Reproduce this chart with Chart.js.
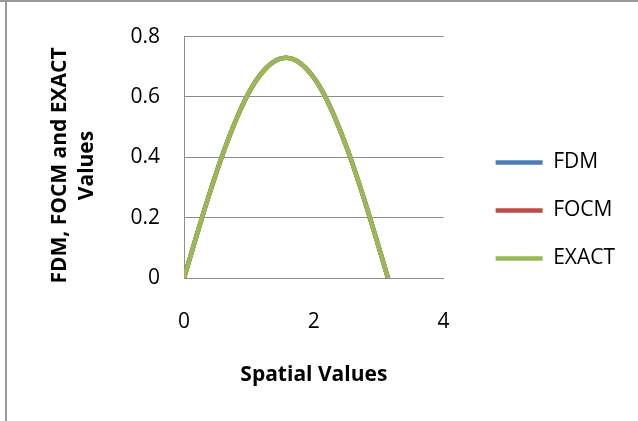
<!DOCTYPE html>
<html>
<head>
<meta charset="utf-8">
<script src="https://cdn.jsdelivr.net/npm/chart.js@4.4.0/dist/chart.umd.min.js"></script>
<style>
  html, body { margin: 0; padding: 0; background: #fff; }
  #wrap { position: relative; width: 638px; height: 421px; }
</style>
</head>
<body>
<div id="wrap"><canvas id="chart" width="638" height="421"></canvas></div>
<script>
// x positions (spatial values)
const xVals = [0, 0.157, 0.314, 0.471, 0.628, 0.785, 0.942, 1.1, 1.257, 1.414, 1.571,
               1.728, 1.885, 2.042, 2.199, 2.356, 2.513, 2.67, 2.827, 2.985, 3.142];
// the three curves lie on top of each other
const fdmVals   = [0, 0.114, 0.226, 0.331, 0.429, 0.516, 0.591, 0.651, 0.694, 0.721, 0.73,
                   0.721, 0.694, 0.651, 0.591, 0.516, 0.429, 0.331, 0.226, 0.114, 0];
const focmVals  = [0, 0.114, 0.226, 0.331, 0.429, 0.516, 0.591, 0.651, 0.694, 0.721, 0.73,
                   0.721, 0.694, 0.651, 0.591, 0.516, 0.429, 0.331, 0.226, 0.114, 0];
const exactVals = [0, 0.114, 0.226, 0.331, 0.429, 0.516, 0.591, 0.651, 0.694, 0.721, 0.73,
                   0.721, 0.694, 0.651, 0.591, 0.516, 0.429, 0.331, 0.226, 0.114, 0];
const seriesNames = ['FDM', 'FOCM', 'EXACT'];
const seriesColors = ['#4a7ebb', '#be4b48', '#98b954'];

const toPoints = (ys) => ys.map((y, i) => ({ x: xVals[i], y: y }));
const allSeries = [fdmVals, focmVals, exactVals];

const FONT = '"Open Sans", sans-serif';
const NB = '\u00a0\u00a0\u00a0'; // pushes the rotated title a bit down

// grey frame on top and left like the original picture
const framePlugin = {
    id: 'frame',
    afterDraw(chart) {
        const c = chart.ctx;
        c.save();
        c.fillStyle = '#9a9a9a';
        c.fillRect(0, 0, chart.width, 2);
        c.fillRect(5, 0, 2, chart.height);
        c.restore();
    }
};

new Chart(document.getElementById('chart'), {
    type: 'line',
    data: {
        datasets: allSeries.map((ys, i) => ({
            label: seriesNames[i],
            data: toPoints(ys),
            borderColor: seriesColors[i],
            backgroundColor: seriesColors[i],
            borderWidth: 4.5,
            borderCapStyle: 'round',
            pointRadius: 0,
            order: 2 - i,          // EXACT on top
            cubicInterpolationMode: 'monotone',
            fill: false
        }))
    },
    options: {
        responsive: false,
        animation: false,
        layout: { padding: { left: 10, top: 10, right: 13, bottom: 10 } },
        plugins: {
            tooltip: { enabled: false },
            legend: {
                position: 'right',
                maxWidth: 220,
                labels: {
                    usePointStyle: true,
                    pointStyle: 'line',
                    pointStyleWidth: 47,
                    padding: 27,
                    color: '#000',
                    sort: (a, b) => a.datasetIndex - b.datasetIndex,
                    font: { family: FONT, size: 21 }
                }
            }
        },
        scales: {
            x: {
                type: 'linear',
                min: 0, max: 4,
                grid: { display: false, drawTicks: false },
                border: { display: true, color: '#8c8c8c' },
                ticks: { stepSize: 2, padding: 31, color: '#000', font: { family: FONT, size: 21 } },
                title: {
                    display: true, text: 'Spatial Values', color: '#000',
                    padding: { top: 0, bottom: 23 },
                    font: { family: FONT, size: 21, weight: 'bold' }
                },
                afterFit(s) { s.height = 133; }
            },
            xTop: {   // empty band above the plot
                type: 'linear', position: 'top', display: true,
                grid: { display: false }, border: { display: false }, ticks: { display: false },
                afterFit(s) { s.height = 21; }
            },
            y: {
                min: 0, max: 0.8,
                grid: { color: '#8c8c8c', drawTicks: false },
                border: { display: true, color: '#8c8c8c' },
                ticks: { stepSize: 0.2, padding: 24, color: '#000', font: { family: FONT, size: 21 } },
                title: {
                    display: true, text: ['FDM, FOCM and EXACT' + NB, 'Values' + NB], color: '#000',
                    padding: { top: 36, bottom: 0 },
                    font: { family: FONT, size: 21, weight: 'bold', lineHeight: 1.3 }
                },
                afterFit(s) { s.width = 174; }
            },
            yGap: {   // empty band between plot and legend
                position: 'right', display: true,
                grid: { display: false }, border: { display: false }, ticks: { display: false },
                afterFit(s) { s.width = 25; }
            }
        }
    },
    plugins: [framePlugin]
});
</script>
</body>
</html>
